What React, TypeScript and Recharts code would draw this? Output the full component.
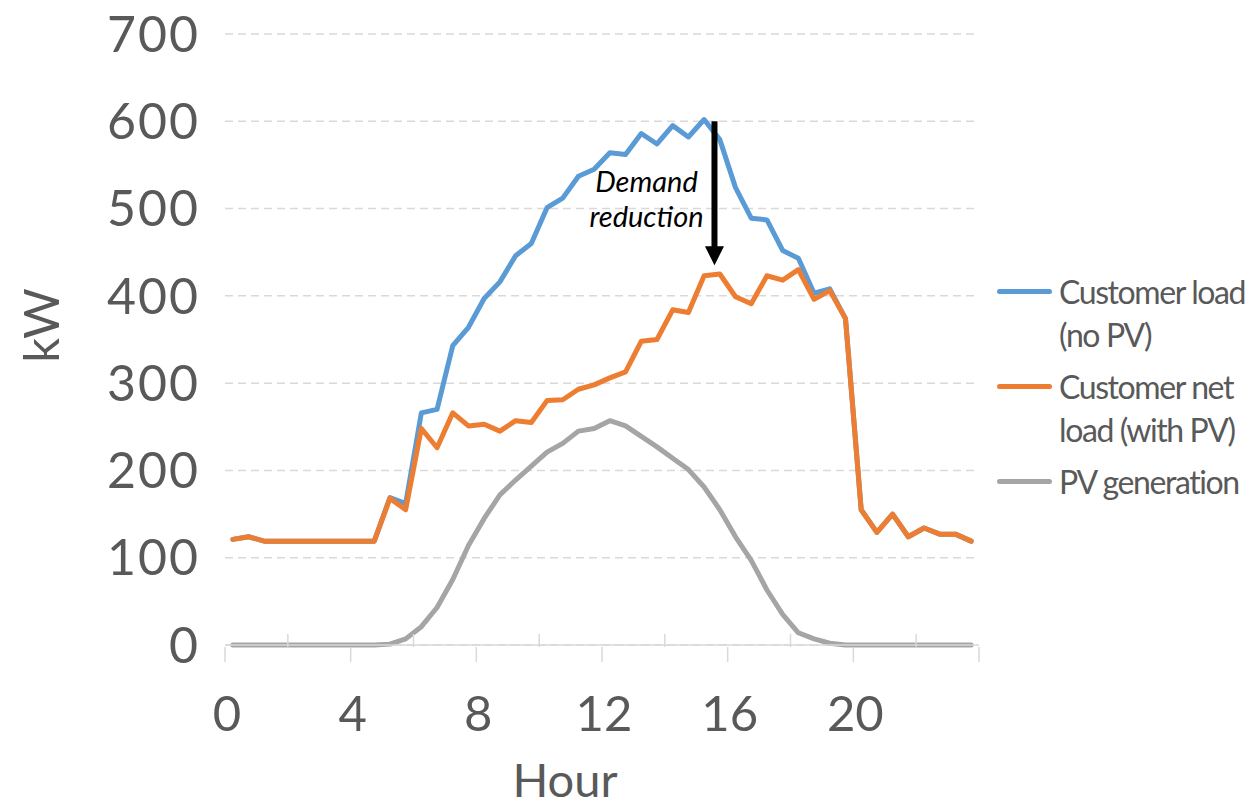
import React from 'react';
import {
  LineChart,
  Line,
  XAxis,
  YAxis,
  CartesianGrid,
  Legend,
  ReferenceLine,
} from 'recharts';

// half-hour intervals, plotted at the middle of each interval
const hours = [
  0.25, 0.75, 1.25, 1.75, 2.25, 2.75, 3.25, 3.75, 4.25, 4.75, 5.25, 5.75,
  6.25, 6.75, 7.25, 7.75, 8.25, 8.75, 9.25, 9.75, 10.25, 10.75, 11.25, 11.75,
  12.25, 12.75, 13.25, 13.75, 14.25, 14.75, 15.25, 15.75, 16.25, 16.75, 17.25, 17.75,
  18.25, 18.75, 19.25, 19.75, 20.25, 20.75, 21.25, 21.75, 22.25, 22.75, 23.25, 23.75,
];

const loadNoPv = [
  121, 124, 119, 119, 119, 119, 119, 119, 119, 119, 169, 162,
  266, 270, 343, 364, 397, 416, 446, 460, 501, 512, 537, 545,
  564, 562, 586, 574, 595, 582, 602, 579, 524, 489, 487, 452,
  443, 403, 408, 374, 155, 129, 150, 124, 134, 127, 127, 119,
];

const netLoad = [
  121, 124, 119, 119, 119, 119, 119, 119, 119, 119, 168, 155,
  248, 226, 266, 251, 253, 245, 257, 255, 280, 281, 293, 298,
  306, 313, 348, 350, 384, 381, 423, 425, 399, 391, 423, 418,
  430, 396, 406, 374, 155, 129, 150, 124, 134, 127, 127, 119,
];

const pvGeneration = [
  0, 0, 0, 0, 0, 0, 0, 0, 0, 0, 1, 7,
  21, 43, 75, 114, 145, 172, 189, 205, 221, 231, 245, 248,
  257, 251, 239, 227, 214, 201, 181, 155, 124, 97, 63, 35,
  14, 7, 2, 0, 0, 0, 0, 0, 0, 0, 0, 0,
];

const xTicks = [0, 2, 4, 6, 8, 10, 12, 14, 16, 18, 20, 22, 24];
const xLabels = [0, 4, 8, 12, 16, 20];
const yTicks = [0, 100, 200, 300, 400, 500, 600, 700];

const data = hours.map((h, i) => ({
  hour: h,
  load: loadNoPv[i],
  net: netLoad[i],
  pv: pvGeneration[i],
}));

const FONT = 'Lato, "Open Sans", sans-serif';
const TEXT = '#595959';
const AXIS = '#d9d9d9';

function HourTick({ x, y, payload }: any) {
  const v = payload.value;
  const major = v % 4 === 0;
  return (
    <g>
      {major ? (
        <line x1={x} y1={y} x2={x} y2={y + 15} stroke={AXIS} strokeWidth={1.5} />
      ) : (
        <line x1={x} y1={y} x2={x} y2={y - 13} stroke={AXIS} strokeWidth={1.5} />
      )}
      {xLabels.includes(v) && (
        <text x={x + 2} y={y + 84} textAnchor="middle" fontSize={49} fontFamily={FONT} fill={TEXT}>
          {v}
        </text>
      )}
    </g>
  );
}

function KwTitle({ viewBox }: any) {
  const cx = viewBox.x + 40;
  const cy = viewBox.y + viewBox.height / 2 - 14;
  return (
    <text
      x={cx}
      y={cy}
      transform={`rotate(-90, ${cx}, ${cy})`}
      textAnchor="middle"
      dominantBaseline="central"
      fontSize={49}
      fontFamily={FONT}
      fill={TEXT}
    >
      kW
    </text>
  );
}

function HourTitle({ viewBox }: any) {
  return (
    <text
      x={viewBox.x + viewBox.width / 2 - 37}
      y={viewBox.y + 152}
      textAnchor="middle"
      fontSize={47}
      fontFamily={FONT}
      fill={TEXT}
    >
      Hour
    </text>
  );
}

function DemandArrow({ x1, y1, x2, y2 }: any) {
  const headH = 19;
  const headW = 9.5;
  return (
    <g>
      <line x1={x1} y1={y1} x2={x2} y2={y2 - headH + 1} stroke="#000" strokeWidth={6} />
      <polygon
        points={`${x2 - headW},${y2 - headH} ${x2 + headW},${y2 - headH} ${x2},${y2}`}
        fill="#000"
      />
      <text x={x1 - 68} y={y1 + 71} textAnchor="middle" fontSize={29} fontStyle="italic" fontFamily={FONT} fill="#000">
        Demand
      </text>
      <text x={x1 - 68} y={y1 + 106} textAnchor="middle" fontSize={29} fontStyle="italic" fontFamily={FONT} fill="#000">
        reduction
      </text>
    </g>
  );
}

function LegendBox({ payload }: any) {
  return (
    <div style={{ fontFamily: FONT, fontSize: 32, color: TEXT, letterSpacing: -1.4 }}>
      {(payload || []).map((entry: any) => (
        <div key={entry.value} style={{ display: 'flex', alignItems: 'flex-start', marginBottom: 9 }}>
          <span
            style={{
              display: 'inline-block',
              flex: 'none',
              width: 55,
              height: 5,
              marginTop: 19,
              borderRadius: 2.5,
              background: entry.color,
            }}
          />
          <span style={{ marginLeft: 7, lineHeight: '43px', whiteSpace: 'pre' }}>
            {entry.value}
          </span>
        </div>
      ))}
    </div>
  );
}

export default function App() {
  return (
    <div style={{ position: 'absolute', left: 0, top: 0, background: '#fff' }}>
      <LineChart
        width={1255}
        height={809}
        data={data}
        margin={{ top: 34, right: 276, bottom: 0, left: 0 }}
      >
        <CartesianGrid vertical={false} stroke={AXIS} strokeWidth={1.5} strokeDasharray="8 5" />
        <XAxis
          dataKey="hour"
          type="number"
          domain={[0, 24]}
          ticks={xTicks}
          interval={0}
          height={164}
          stroke={AXIS}
          strokeWidth={1.5}
          tickLine={false}
          tickSize={0}
          tick={<HourTick />}
          label={<HourTitle />}
        />
        <YAxis
          domain={[0, 700]}
          ticks={yTicks}
          interval={0}
          width={225}
          axisLine={false}
          tickLine={false}
          tickSize={0}
          tickMargin={25}
          tick={{ fontSize: 50, fontFamily: FONT, fill: TEXT, letterSpacing: 2 }}
          label={<KwTitle />}
        />
        <Legend
          layout="vertical"
          align="center"
          verticalAlign="middle"
          content={<LegendBox />}
          wrapperStyle={{ left: 997, top: 270, width: 258 }}
        />
        <Line
          dataKey="load"
          name={'Customer load\n(no PV)'}
          stroke="#5B9BD5"
          strokeWidth={5}
          dot={false}
          strokeLinejoin="round"
          strokeLinecap="round"
          isAnimationActive={false}
        />
        <Line
          dataKey="net"
          name={'Customer net\nload (with PV)'}
          stroke="#ED7D31"
          strokeWidth={5}
          dot={false}
          strokeLinejoin="round"
          strokeLinecap="round"
          isAnimationActive={false}
        />
        <Line
          dataKey="pv"
          name="PV generation"
          stroke="#A5A5A5"
          strokeWidth={5}
          dot={false}
          strokeLinejoin="round"
          strokeLinecap="round"
          isAnimationActive={false}
        />
        <ReferenceLine
          segment={[
            { x: 15.58, y: 600 },
            { x: 15.58, y: 435 },
          ]}
          shape={<DemandArrow />}
        />
      </LineChart>
    </div>
  );
}
